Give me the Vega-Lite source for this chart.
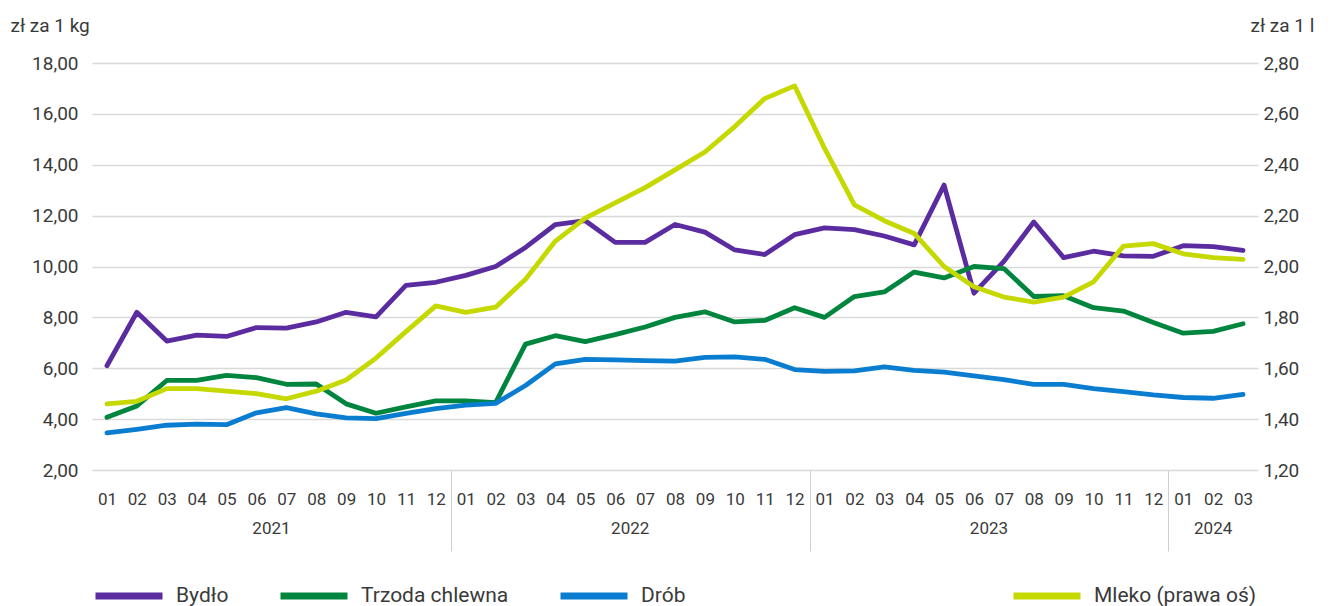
{
  "$schema": "https://vega.github.io/schema/vega-lite/v6.json",
  "width": 1166,
  "height": 407,
  "autosize": {"type": "none"},
  "padding": {"left": 92, "top": 63, "right": 74, "bottom": 136},
  "background": "white",
  "config": {
    "font": "Roboto",
    "view": {"stroke": null},
    "axis": {"labelFont": "Roboto", "titleFont": "Roboto", "labelColor": "#3a3a3a", "titleColor": "#3a3a3a"},
    "legend": {"labelFont": "Roboto", "labelColor": "#3a3a3a", "labelLimit": 400}
  },
  "data": {
    "values": [
      {"month": "2021-01", "series": "Bydło", "value": 6.1},
      {"month": "2021-02", "series": "Bydło", "value": 8.2},
      {"month": "2021-03", "series": "Bydło", "value": 7.07},
      {"month": "2021-04", "series": "Bydło", "value": 7.3},
      {"month": "2021-05", "series": "Bydło", "value": 7.25},
      {"month": "2021-06", "series": "Bydło", "value": 7.6},
      {"month": "2021-07", "series": "Bydło", "value": 7.58},
      {"month": "2021-08", "series": "Bydło", "value": 7.82},
      {"month": "2021-09", "series": "Bydło", "value": 8.2},
      {"month": "2021-10", "series": "Bydło", "value": 8.02},
      {"month": "2021-11", "series": "Bydło", "value": 9.26},
      {"month": "2021-12", "series": "Bydło", "value": 9.38},
      {"month": "2022-01", "series": "Bydło", "value": 9.65},
      {"month": "2022-02", "series": "Bydło", "value": 10.0},
      {"month": "2022-03", "series": "Bydło", "value": 10.75},
      {"month": "2022-04", "series": "Bydło", "value": 11.65},
      {"month": "2022-05", "series": "Bydło", "value": 11.8},
      {"month": "2022-06", "series": "Bydło", "value": 10.95},
      {"month": "2022-07", "series": "Bydło", "value": 10.95},
      {"month": "2022-08", "series": "Bydło", "value": 11.65},
      {"month": "2022-09", "series": "Bydło", "value": 11.35},
      {"month": "2022-10", "series": "Bydło", "value": 10.65},
      {"month": "2022-11", "series": "Bydło", "value": 10.47},
      {"month": "2022-12", "series": "Bydło", "value": 11.25},
      {"month": "2023-01", "series": "Bydło", "value": 11.52},
      {"month": "2023-02", "series": "Bydło", "value": 11.45},
      {"month": "2023-03", "series": "Bydło", "value": 11.2},
      {"month": "2023-04", "series": "Bydło", "value": 10.85},
      {"month": "2023-05", "series": "Bydło", "value": 13.2},
      {"month": "2023-06", "series": "Bydło", "value": 8.95},
      {"month": "2023-07", "series": "Bydło", "value": 10.2},
      {"month": "2023-08", "series": "Bydło", "value": 11.75},
      {"month": "2023-09", "series": "Bydło", "value": 10.35},
      {"month": "2023-10", "series": "Bydło", "value": 10.6},
      {"month": "2023-11", "series": "Bydło", "value": 10.42},
      {"month": "2023-12", "series": "Bydło", "value": 10.4},
      {"month": "2024-01", "series": "Bydło", "value": 10.82},
      {"month": "2024-02", "series": "Bydło", "value": 10.78},
      {"month": "2024-03", "series": "Bydło", "value": 10.63},
      {"month": "2021-01", "series": "Trzoda chlewna", "value": 4.07},
      {"month": "2021-02", "series": "Trzoda chlewna", "value": 4.52},
      {"month": "2021-03", "series": "Trzoda chlewna", "value": 5.52},
      {"month": "2021-04", "series": "Trzoda chlewna", "value": 5.52},
      {"month": "2021-05", "series": "Trzoda chlewna", "value": 5.72},
      {"month": "2021-06", "series": "Trzoda chlewna", "value": 5.63},
      {"month": "2021-07", "series": "Trzoda chlewna", "value": 5.37},
      {"month": "2021-08", "series": "Trzoda chlewna", "value": 5.38},
      {"month": "2021-09", "series": "Trzoda chlewna", "value": 4.6},
      {"month": "2021-10", "series": "Trzoda chlewna", "value": 4.23},
      {"month": "2021-11", "series": "Trzoda chlewna", "value": 4.48},
      {"month": "2021-12", "series": "Trzoda chlewna", "value": 4.72},
      {"month": "2022-01", "series": "Trzoda chlewna", "value": 4.72},
      {"month": "2022-02", "series": "Trzoda chlewna", "value": 4.65},
      {"month": "2022-03", "series": "Trzoda chlewna", "value": 6.95},
      {"month": "2022-04", "series": "Trzoda chlewna", "value": 7.28},
      {"month": "2022-05", "series": "Trzoda chlewna", "value": 7.05},
      {"month": "2022-06", "series": "Trzoda chlewna", "value": 7.32},
      {"month": "2022-07", "series": "Trzoda chlewna", "value": 7.62},
      {"month": "2022-08", "series": "Trzoda chlewna", "value": 8.0},
      {"month": "2022-09", "series": "Trzoda chlewna", "value": 8.22},
      {"month": "2022-10", "series": "Trzoda chlewna", "value": 7.82},
      {"month": "2022-11", "series": "Trzoda chlewna", "value": 7.88},
      {"month": "2022-12", "series": "Trzoda chlewna", "value": 8.38},
      {"month": "2023-01", "series": "Trzoda chlewna", "value": 8.0},
      {"month": "2023-02", "series": "Trzoda chlewna", "value": 8.82},
      {"month": "2023-03", "series": "Trzoda chlewna", "value": 9.0},
      {"month": "2023-04", "series": "Trzoda chlewna", "value": 9.78},
      {"month": "2023-05", "series": "Trzoda chlewna", "value": 9.55},
      {"month": "2023-06", "series": "Trzoda chlewna", "value": 10.0},
      {"month": "2023-07", "series": "Trzoda chlewna", "value": 9.92},
      {"month": "2023-08", "series": "Trzoda chlewna", "value": 8.82},
      {"month": "2023-09", "series": "Trzoda chlewna", "value": 8.85},
      {"month": "2023-10", "series": "Trzoda chlewna", "value": 8.38},
      {"month": "2023-11", "series": "Trzoda chlewna", "value": 8.25},
      {"month": "2023-12", "series": "Trzoda chlewna", "value": 7.8},
      {"month": "2024-01", "series": "Trzoda chlewna", "value": 7.38},
      {"month": "2024-02", "series": "Trzoda chlewna", "value": 7.45},
      {"month": "2024-03", "series": "Trzoda chlewna", "value": 7.75},
      {"month": "2021-01", "series": "Drób", "value": 3.46},
      {"month": "2021-02", "series": "Drób", "value": 3.6},
      {"month": "2021-03", "series": "Drób", "value": 3.76},
      {"month": "2021-04", "series": "Drób", "value": 3.8},
      {"month": "2021-05", "series": "Drób", "value": 3.78},
      {"month": "2021-06", "series": "Drób", "value": 4.25},
      {"month": "2021-07", "series": "Drób", "value": 4.45},
      {"month": "2021-08", "series": "Drób", "value": 4.21},
      {"month": "2021-09", "series": "Drób", "value": 4.05},
      {"month": "2021-10", "series": "Drób", "value": 4.02},
      {"month": "2021-11", "series": "Drób", "value": 4.23},
      {"month": "2021-12", "series": "Drób", "value": 4.41},
      {"month": "2022-01", "series": "Drób", "value": 4.55},
      {"month": "2022-02", "series": "Drób", "value": 4.62},
      {"month": "2022-03", "series": "Drób", "value": 5.32},
      {"month": "2022-04", "series": "Drób", "value": 6.17},
      {"month": "2022-05", "series": "Drób", "value": 6.35},
      {"month": "2022-06", "series": "Drób", "value": 6.33},
      {"month": "2022-07", "series": "Drób", "value": 6.3},
      {"month": "2022-08", "series": "Drób", "value": 6.28},
      {"month": "2022-09", "series": "Drób", "value": 6.43},
      {"month": "2022-10", "series": "Drób", "value": 6.45},
      {"month": "2022-11", "series": "Drób", "value": 6.35},
      {"month": "2022-12", "series": "Drób", "value": 5.95},
      {"month": "2023-01", "series": "Drób", "value": 5.88},
      {"month": "2023-02", "series": "Drób", "value": 5.9},
      {"month": "2023-03", "series": "Drób", "value": 6.05},
      {"month": "2023-04", "series": "Drób", "value": 5.92},
      {"month": "2023-05", "series": "Drób", "value": 5.85},
      {"month": "2023-06", "series": "Drób", "value": 5.7},
      {"month": "2023-07", "series": "Drób", "value": 5.55},
      {"month": "2023-08", "series": "Drób", "value": 5.37},
      {"month": "2023-09", "series": "Drób", "value": 5.37},
      {"month": "2023-10", "series": "Drób", "value": 5.2},
      {"month": "2023-11", "series": "Drób", "value": 5.08},
      {"month": "2023-12", "series": "Drób", "value": 4.95},
      {"month": "2024-01", "series": "Drób", "value": 4.85},
      {"month": "2024-02", "series": "Drób", "value": 4.82},
      {"month": "2024-03", "series": "Drób", "value": 4.97},
      {"month": "2021-01", "series": "Mleko (prawa oś)", "value": 1.46},
      {"month": "2021-02", "series": "Mleko (prawa oś)", "value": 1.47},
      {"month": "2021-03", "series": "Mleko (prawa oś)", "value": 1.52},
      {"month": "2021-04", "series": "Mleko (prawa oś)", "value": 1.52},
      {"month": "2021-05", "series": "Mleko (prawa oś)", "value": 1.51},
      {"month": "2021-06", "series": "Mleko (prawa oś)", "value": 1.5},
      {"month": "2021-07", "series": "Mleko (prawa oś)", "value": 1.48},
      {"month": "2021-08", "series": "Mleko (prawa oś)", "value": 1.51},
      {"month": "2021-09", "series": "Mleko (prawa oś)", "value": 1.554},
      {"month": "2021-10", "series": "Mleko (prawa oś)", "value": 1.64},
      {"month": "2021-11", "series": "Mleko (prawa oś)", "value": 1.744},
      {"month": "2021-12", "series": "Mleko (prawa oś)", "value": 1.845},
      {"month": "2022-01", "series": "Mleko (prawa oś)", "value": 1.82},
      {"month": "2022-02", "series": "Mleko (prawa oś)", "value": 1.84},
      {"month": "2022-03", "series": "Mleko (prawa oś)", "value": 1.95},
      {"month": "2022-04", "series": "Mleko (prawa oś)", "value": 2.1},
      {"month": "2022-05", "series": "Mleko (prawa oś)", "value": 2.19},
      {"month": "2022-06", "series": "Mleko (prawa oś)", "value": 2.25},
      {"month": "2022-07", "series": "Mleko (prawa oś)", "value": 2.31},
      {"month": "2022-08", "series": "Mleko (prawa oś)", "value": 2.38},
      {"month": "2022-09", "series": "Mleko (prawa oś)", "value": 2.45},
      {"month": "2022-10", "series": "Mleko (prawa oś)", "value": 2.55},
      {"month": "2022-11", "series": "Mleko (prawa oś)", "value": 2.66},
      {"month": "2022-12", "series": "Mleko (prawa oś)", "value": 2.71},
      {"month": "2023-01", "series": "Mleko (prawa oś)", "value": 2.465},
      {"month": "2023-02", "series": "Mleko (prawa oś)", "value": 2.242},
      {"month": "2023-03", "series": "Mleko (prawa oś)", "value": 2.18},
      {"month": "2023-04", "series": "Mleko (prawa oś)", "value": 2.13},
      {"month": "2023-05", "series": "Mleko (prawa oś)", "value": 2.0},
      {"month": "2023-06", "series": "Mleko (prawa oś)", "value": 1.92},
      {"month": "2023-07", "series": "Mleko (prawa oś)", "value": 1.88},
      {"month": "2023-08", "series": "Mleko (prawa oś)", "value": 1.86},
      {"month": "2023-09", "series": "Mleko (prawa oś)", "value": 1.88},
      {"month": "2023-10", "series": "Mleko (prawa oś)", "value": 1.94},
      {"month": "2023-11", "series": "Mleko (prawa oś)", "value": 2.08},
      {"month": "2023-12", "series": "Mleko (prawa oś)", "value": 2.09},
      {"month": "2024-01", "series": "Mleko (prawa oś)", "value": 2.05},
      {"month": "2024-02", "series": "Mleko (prawa oś)", "value": 2.035},
      {"month": "2024-03", "series": "Mleko (prawa oś)", "value": 2.028}
    ]
  },
  "layer": [
    {
      "transform": [{"filter": "datum.series != 'Mleko (prawa oś)'"}],
      "mark": {"type": "line", "strokeWidth": 4.8, "strokeJoin": "round", "strokeCap": "round"},
      "encoding": {
        "x": {
          "field": "month",
          "type": "ordinal",
          "bandPosition": 0.5,
          "scale": {"type": "band", "paddingInner": 0, "paddingOuter": 0},
          "axis": {
            "orient": "bottom",
            "title": null,
            "domain": false,
            "grid": false,
            "ticks": true,
            "tickBand": "extent",
            "tickSize": 81,
            "tickColor": "#cfcfcf",
            "tickWidth": 1,
            "tickOpacity": {"condition": {"test": "datum.value && substring(datum.value, 5, 7) == '12'", "value": 1}, "value": 0},
            "labelExpr": "datum.value ? substring(datum.value, 5, 7) : ''",
            "labelAngle": 0,
            "labelFontSize": 17,
            "labelBaseline": "alphabetic",
            "labelPadding": -47,
            "labelOverlap": false,
            "labelBound": false
          }
        },
        "y": {
          "field": "value",
          "type": "quantitative",
          "scale": {"domain": [2, 18], "nice": false, "zero": false},
          "axis": {
            "orient": "left",
            "values": [2, 4, 6, 8, 10, 12, 14, 16, 18],
            "labelExpr": "replace(format(datum.value, '.2f'), '.', ',')",
            "grid": true,
            "gridColor": "#d9d9d9",
            "gridWidth": 1.5,
            "ticks": false,
            "domain": false,
            "labelPadding": 14,
            "labelFontSize": 19,
            "title": "zł za 1 kg",
            "titleAngle": 0,
            "titleAlign": "left",
            "titleBaseline": "alphabetic",
            "titleFontSize": 19,
            "titleFontWeight": "normal",
            "titleX": -82,
            "titleY": -32
          }
        },
        "color": {
          "field": "series",
          "type": "nominal",
          "scale": {"domain": ["Bydło", "Trzoda chlewna", "Drób"], "range": ["#5a2ca0", "#00853e", "#0a7dd1"]},
          "legend": {
            "orient": "none",
            "legendX": 0,
            "legendY": 496,
            "direction": "horizontal",
            "title": null,
            "symbolType": "stroke",
            "symbolSize": 4489,
            "symbolStrokeWidth": 7,
            "labelFontSize": 21,
            "labelOffset": 10,
            "columnPadding": 37
          }
        }
      }
    },
    {
      "transform": [{"filter": "datum.series == 'Mleko (prawa oś)'"}],
      "mark": {"type": "line", "strokeWidth": 4.8, "strokeJoin": "round", "strokeCap": "round"},
      "encoding": {
        "x": {
          "field": "month",
          "type": "ordinal",
          "bandPosition": 0.5,
          "scale": {"type": "band", "paddingInner": 0, "paddingOuter": 0},
          "axis": {
            "orient": "bottom",
            "title": null,
            "domain": false,
            "grid": false,
            "ticks": false,
            "values": ["2021-06", "2022-06", "2023-06", "2024-02"],
            "labelExpr": "substring(datum.value, 0, 4)",
            "labelOffset": {"condition": {"test": "datum.value == '2024-02'", "value": 0}, "value": 15},
            "labelAngle": 0,
            "labelFontSize": 17,
            "labelBaseline": "alphabetic",
            "labelPadding": 63,
            "labelOverlap": false,
            "labelBound": false
          }
        },
        "y": {
          "field": "value",
          "type": "quantitative",
          "scale": {"domain": [1.2, 2.8], "nice": false, "zero": false},
          "axis": {
            "orient": "right",
            "values": [1.2, 1.4, 1.6, 1.8, 2.0, 2.2, 2.4, 2.6, 2.8],
            "labelExpr": "replace(format(datum.value, '.2f'), '.', ',')",
            "grid": false,
            "ticks": false,
            "domain": false,
            "labelPadding": 5,
            "labelFontSize": 19,
            "title": "zł za 1 l",
            "titleAngle": 0,
            "titleAlign": "left",
            "titleBaseline": "alphabetic",
            "titleFontSize": 19,
            "titleFontWeight": "normal",
            "titleX": -8,
            "titleY": -32
          }
        },
        "color": {
          "field": "series",
          "type": "nominal",
          "scale": {"domain": ["Mleko (prawa oś)"], "range": ["#c5d800"]},
          "legend": {
            "orient": "none",
            "legendX": 918,
            "legendY": 496,
            "direction": "horizontal",
            "title": null,
            "symbolType": "stroke",
            "symbolSize": 4489,
            "symbolStrokeWidth": 7,
            "labelFontSize": 21,
            "labelOffset": 10,
            "labelLimit": 400
          }
        }
      }
    }
  ],
  "resolve": {
    "scale": {"y": "independent", "color": "independent"},
    "axis": {"x": "independent"}
  }
}
